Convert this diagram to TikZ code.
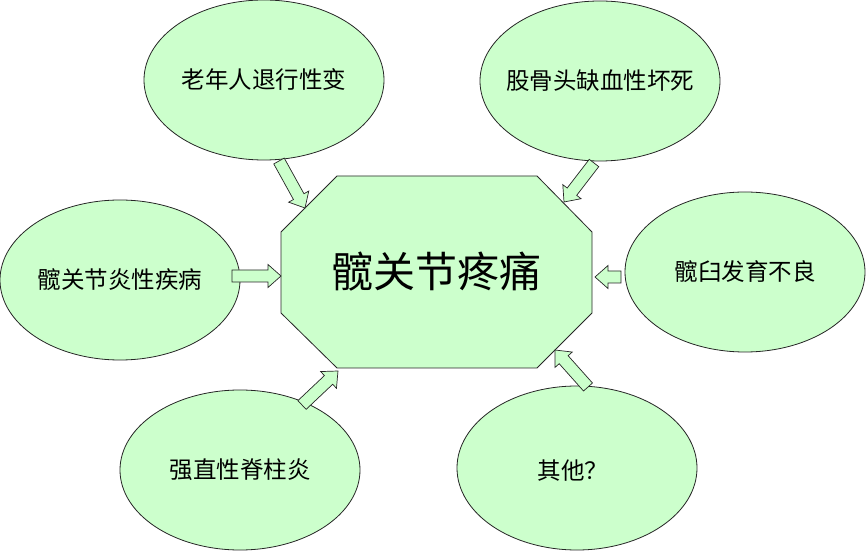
\documentclass[tikz,border=0pt]{standalone}
\usepackage{fontspec}
\newfontfamily\cjk{Noto Sans CJK SC}
\usetikzlibrary{calc,shapes.geometric}
\definecolor{pale}{HTML}{CCFFCC}
\tikzset{
  bubble/.style={ellipse,draw=black!85,fill=pale,line width=0.8pt,minimum width=240pt,minimum height=160pt,inner sep=0pt},
  bubbletext/.style={font=\cjk\fontsize{23.5}{26}\selectfont,inner sep=0pt},
  blockarr/.style={draw=black!85,fill=pale,line width=0.7pt,line join=miter}
}
\newcommand\blockarrow[2]{%
  \path ($(#2)!13pt!(#1)$) coordinate (hb);
  \draw[blockarr] ($(#1)!6pt!90:(#2)$) -- ($(hb)!6pt!90:(#2)$) -- ($(hb)!11.5pt!90:(#2)$) -- (#2)
    -- ($(hb)!11.5pt!-90:(#2)$) -- ($(hb)!6pt!-90:(#2)$) -- ($(#1)!6pt!-90:(#2)$) -- cycle;
}
\begin{document}
\begin{tikzpicture}[x=1pt,y=-1pt]
\fill[white] (0,0) rectangle (868,553);
\useasboundingbox (0,0) rectangle (868,553);
% central octagon
\draw[fill=pale,draw=black!85,line width=0.8pt] (337,176) -- (537,176) -- (592,232) -- (592,313) -- (537,368) -- (337,368) -- (281,313) -- (281,232) -- cycle;
\node[font=\cjk\fontsize{42}{46}\selectfont] (c) at (436,272) {髋关节疼痛};
% bubbles
\node[bubble] (a1) at (264,80) {};
\node[bubbletext] (l1) at (a1.center) {老年人退行性变};
\node[bubble] (a2) at (600,81) {};
\node[bubbletext] (l2) at (a2.center) {股骨头缺血性坏死};
\node[bubble] (a3) at (120,280) {};
\node[bubbletext] (l3) at (a3.center) {髋关节炎性疾病};
\node[bubble] (a4) at (745,272) {};
\node[bubbletext] (l4) at (a4.center) {髋臼发育不良};
\node[bubble] (a5) at (240,470) {};
\node[bubbletext] (l5) at (a5.center) {强直性脊柱炎};
\node[bubble,minimum height=164pt] (a6) at (577,468) {};
\node[bubbletext] (l6) at ([xshift=-4pt,yshift=-3pt]a6.center) {其他？};
% arrow ends
\coordinate (t1) at (279,161); \coordinate (h1) at (305,208);
\coordinate (t2) at (594,163); \coordinate (h2) at (564,202);
\coordinate (t3) at (232,276); \coordinate (h3) at (281,276);
\coordinate (t4) at (621,277); \coordinate (h4) at (595,277);
\coordinate (t5) at (302,405); \coordinate (h5) at (338,371);
\coordinate (t6) at (588,387); \coordinate (h6) at (555,350);
\blockarrow{t1}{h1}
\blockarrow{t2}{h2}
\blockarrow{t3}{h3}
\blockarrow{t4}{h4}
\blockarrow{t5}{h5}
\blockarrow{t6}{h6}
\end{tikzpicture}
\end{document}
